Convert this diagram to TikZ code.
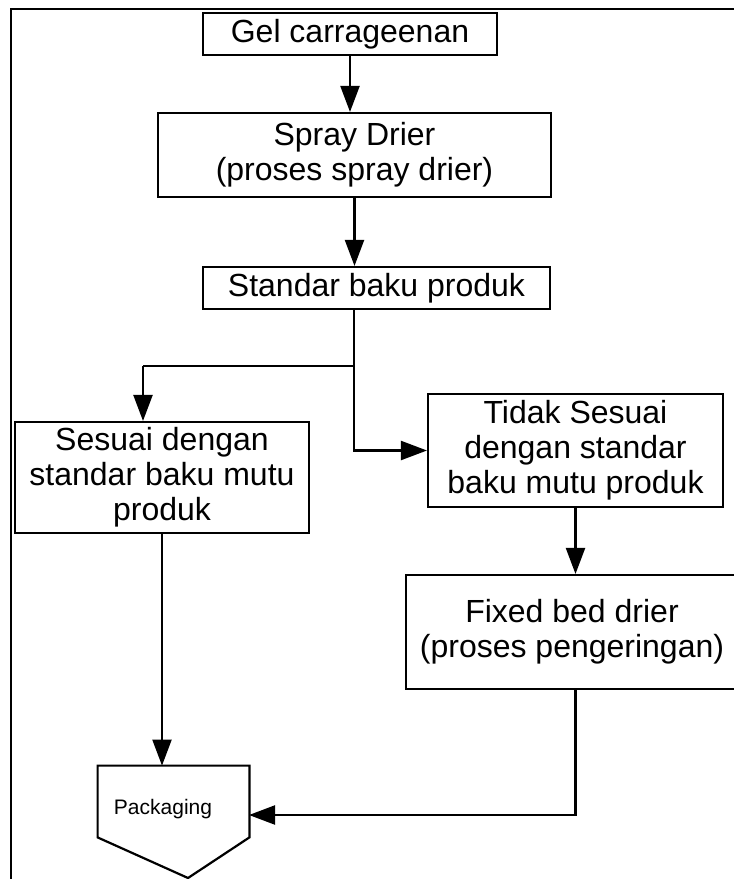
\documentclass[tikz,border=0pt]{standalone}
\usepackage{fontspec}
\setmainfont{Liberation Sans}
\usetikzlibrary{arrows.meta,positioning,calc}
\tikzset{
  blk/.style={draw=black, line width=1.05pt, inner sep=0pt, align=center, font=\fontsize{16}{17.5}\selectfont},
  arr/.style={-{Triangle[length=13pt,width=9.5pt]}, line width=1.1pt},
  lin/.style={line width=1.1pt},
  frm/.style={line width=1.4pt},
}
\begin{document}
\begin{tikzpicture}[x=0.5pt,y=-0.5pt]
  \useasboundingbox (0,0) rectangle (734,879);
  \clip (0,0) rectangle (734,879);
  \draw[frm] (11,9) rectangle (780,920);
  % main line
  \node[blk, minimum width=147pt, minimum height=21pt] (gel) at (350,34) {Gel carrageenan};
  \node[blk, minimum width=196.5pt, minimum height=42pt] (spray) at (354.5,155) {Spray Drier\\(proses spray drier)};
  \node[blk, minimum width=173.5pt, minimum height=21pt] (std) at (376.5,288) {Standar baku produk};
  \node[blk, minimum width=147pt, minimum height=55.5pt] (sesuai) at (162,477.5) {Sesuai dengan\\standar baku mutu\\produk};
  \node[blk, minimum width=147.5pt, minimum height=56.5pt] (tidak) at (575.5,450.5) {Tidak Sesuai\\dengan standar\\baku mutu produk};
  \node[blk, minimum width=166pt, minimum height=57pt] (fixed) at (572,632) {Fixed bed drier\\(proses pengeringan)};
  % packaging (off-page shape)
  \node[minimum width=75.5pt, minimum height=35.5pt, inner sep=0pt] (pack) at (173.5,801.5) {};
  \draw[lin] (pack.north west) -- (pack.north east) -- (pack.south east) -- (188,878) -- (pack.south west) -- cycle;
  \node[font=\fontsize{10.5}{12}\selectfont, inner sep=0pt] (packtxt) at (163,809) {Packaging};
  \coordinate (split) at (354,366);
  \coordinate (jl) at (143,366);
  \coordinate (packin) at (249,815);
  \draw[arr] (gel.south) -- (gel.south |- spray.north);
  \draw[arr] (spray.south) -- (spray.south |- std.north);
  \draw[lin] (split |- std.south) -- (split) -- (jl);
  \draw[arr] (jl) -- (jl |- sesuai.north);
  \draw[arr] (split) |- (tidak.west);
  \draw[arr] (tidak.south) -- (tidak.south |- fixed.north);
  \draw[arr] (sesuai.south) -- (sesuai.south |- pack.north);
  \draw[arr] (fixed.south -| tidak.south) |- (packin);
\end{tikzpicture}
\end{document}
